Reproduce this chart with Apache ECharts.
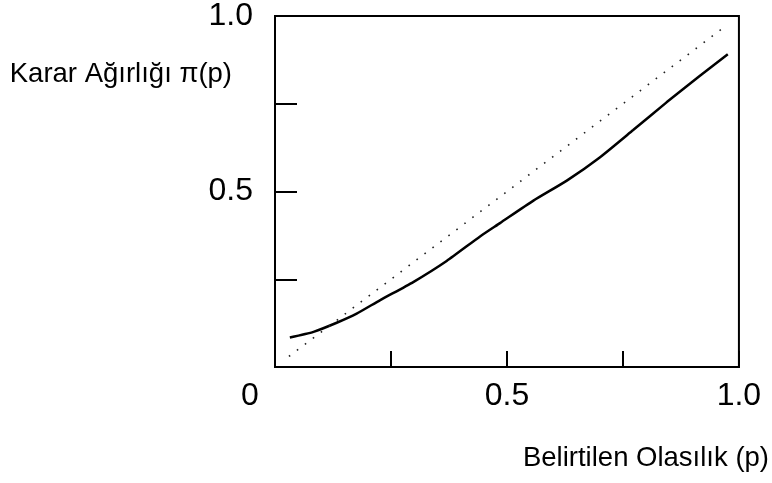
<!DOCTYPE html>
<html>
<head>
<meta charset="utf-8">
<script src="https://cdn.jsdelivr.net/npm/echarts@6/dist/echarts.min.js"></script>
<style>
body { margin: 0; background-color: #fff; }
#main { width: 772px; height: 483px; }
</style>
</head>
<body>
<div id="main"></div>
<script>
// stated probability p and decision weight pi(p)
var probs   = [0.032, 0.083, 0.133, 0.176, 0.226, 0.298, 0.370, 0.442, 0.485, 0.557, 0.629, 0.700, 0.772, 0.844, 0.916, 0.976];
var weights = [0.084, 0.100, 0.126, 0.152, 0.190, 0.242, 0.302, 0.372, 0.410, 0.474, 0.531, 0.597, 0.675, 0.754, 0.830, 0.891];
// reference diagonal pi(p) = p
var diagX = [0.03, 0.97];
var diagY = [0.03, 0.97];
var xLabels = { 0: '0', 0.5: '0.5', 1: '1.0' };
var yLabels = { 0.5: '0.5', 1: '1.0' };

var chart = echarts.init(document.getElementById('main'));

var font = 'Liberation Sans, Arial, sans-serif';

var option = {
    animation: false,
    grid: {
        left: 275, right: 33, top: 15, bottom: 116,
        show: true,
        borderColor: '#000',
        borderWidth: 2
    },
    xAxis: {
        type: 'value',
        min: 0, max: 1, interval: 0.25,
        name: 'Belirtilen Olasılık (p)',
        nameLocation: 'middle',
        nameGap: 91,
        nameTextStyle: {
            fontFamily: font, fontSize: 27.5, color: '#000',
            align: 'left', verticalAlign: 'middle',
            padding: [0, 0, 0, 16]
        },
        axisLine: { show: true, lineStyle: { color: '#000', width: 2 } },
        axisTick: { show: true, inside: true, length: 16, lineStyle: { color: '#000', width: 2 } },
        splitLine: { show: false },
        axisLabel: {
            margin: 13,
            fontFamily: font, fontSize: 32, color: '#000',
            formatter: function (v) {
                if (v === 0) return '{o|0}';
                return xLabels[v] || '';
            },
            rich: {
                o: { fontFamily: font, fontSize: 32, color: '#000', padding: [0, 50, 0, 0] }
            }
        }
    },
    yAxis: {
        type: 'value',
        min: 0, max: 1, interval: 0.25,
        name: 'Karar Ağırlığı π(p)',
        nameLocation: 'end',
        nameGap: -58,
        nameTextStyle: {
            fontFamily: font, fontSize: 27.5, color: '#000',
            align: 'right', verticalAlign: 'middle',
            padding: [0, 43, 0, 0]
        },
        axisLine: { show: true, lineStyle: { color: '#000', width: 2 } },
        axisTick: { show: true, inside: true, length: 22, lineStyle: { color: '#000', width: 2 } },
        splitLine: { show: false },
        axisLabel: {
            margin: 22,
            fontFamily: font, fontSize: 32, color: '#000',
            formatter: function (v) { return yLabels[v] || ''; }
        }
    },
    series: [
        {
            type: 'line',
            data: probs.map(function (p, i) { return [p, weights[i]]; }),
            smooth: 0.2,
            showSymbol: false,
            lineStyle: { color: '#000', width: 2.5 }
        },
        {
            type: 'line',
            data: diagX.map(function (x, i) { return [x, diagY[i]]; }),
            showSymbol: false,
            lineStyle: { color: '#222', width: 1.6, type: [1.6, 8.4] }
        }
    ]
};

chart.setOption(option);
</script>
</body>
</html>
